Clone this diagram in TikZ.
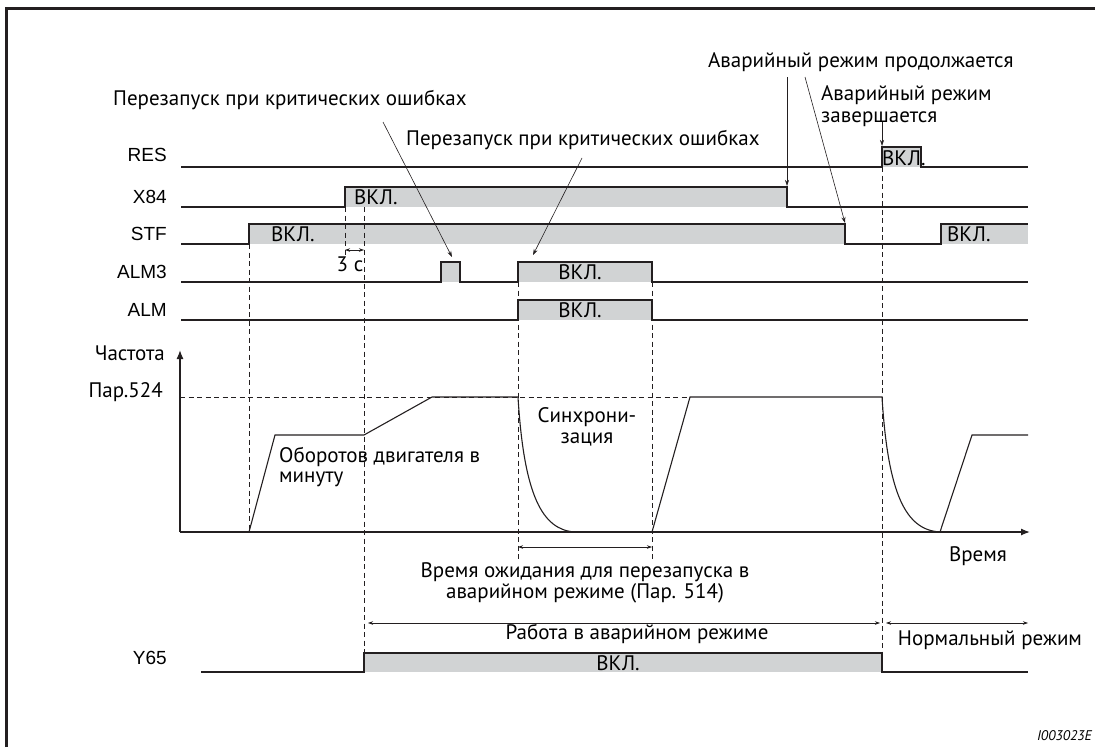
\documentclass[tikz,border=0pt]{standalone}
\usepackage{fontspec}
\setmainfont{PT Sans}
\newfontfamily\sigfamily{Liberation Sans}
\usetikzlibrary{arrows.meta}
\definecolor{wLine}{HTML}{231F20}
\definecolor{wFill}{HTML}{D1D3D4}
\tikzset{
  wave/.style={draw=wLine, line width=1.3pt, line join=miter},
  curve/.style={draw=wLine, line width=1.1pt},
  guide/.style={draw=wLine, line width=0.8pt, dash pattern=on 5pt off 3.5pt},
  axis/.style={draw=wLine, line width=1.3pt, -{Latex[length=9pt, width=7pt]}},
  ptr/.style={draw=wLine, line width=0.6pt, -{Stealth[length=6pt, width=4pt]}},
  span/.style={draw=wLine, line width=0.6pt,
               {Stealth[length=5pt, width=3.5pt]}-{Stealth[length=5pt, width=3.5pt]}},
  sig/.style={font=\sigfamily\fontsize{19}{19}\selectfont, anchor=east, inner sep=0pt},
  txt/.style={font=\fontsize{21}{20.5}\selectfont, inner sep=0pt, align=center},
  onlbl/.style={font=\fontsize{21}{21}\selectfont, inner sep=0pt},
}
\newcommand{\vkl}{ВКЛ.}

\begin{document}
\begin{tikzpicture}[x=1pt, y=-1pt]
\useasboundingbox (0,0) rectangle (1095,747);

%% ── frame ────────────────────────────────────────────────────────────────
\draw[wLine, line width=2.5pt] (6.5,747) -- (6.5,8.5) -- (1095,8.5);

%% ── signal names ─────────────────────────────────────────────────────────
\node[sig] (nRES)  at (167,155) {RES};
\node[sig] (nX84)  at (167,197) {X84};
\node[sig] (nSTF)  at (167,234) {STF};
\node[sig] (nALM3) at (167,272) {ALM3};
\node[sig] (nALM)  at (167,310) {ALM};
\node[sig] (nY65)  at (167,658) {Y65};

%% ── grey "on" bands ──────────────────────────────────────────────────────
\fill[wFill] (882,147) rectangle (921,167);
\fill[wFill] (345,187) rectangle (787,207);
\fill[wFill] (249,224) rectangle (845,244);
\fill[wFill] (941,224) rectangle (1028,244);
\fill[wFill] (441,262) rectangle (460,282);
\fill[wFill] (518,262) rectangle (652,282);
\fill[wFill] (518,300) rectangle (652,320);
\fill[wFill] (364,653) rectangle (882,672);

%% ── dashed guides ────────────────────────────────────────────────────────
\draw[guide] (249,244) -- (249,532);
\draw[guide] (345,207) -- (345,255);
\draw[guide] (364,207) -- (364,653);
\draw[guide] (518,282) -- (518,560);
\draw[guide] (652,282) -- (652,560);
\draw[guide] (882,167) -- (882,653);
\draw[guide] (180,397) -- (690,397);

%% ── waveforms ────────────────────────────────────────────────────────────
\draw[wave] (181,167) -- (882,167) -- (882,147) -- (921,147) -- (921,167) -- (1028,167);
\draw[wave] (181,207) -- (345,207) -- (345,187) -- (787,187) -- (787,207) -- (1028,207);
\draw[wave] (181,244) -- (249,244) -- (249,224) -- (845,224) -- (845,244)
            -- (941,244) -- (941,224) -- (1028,224);
\draw[wave] (181,282) -- (441,282) -- (441,262) -- (460,262) -- (460,282)
            -- (518,282) -- (518,262) -- (652,262) -- (652,282) -- (1028,282);
\draw[wave] (181,320) -- (518,320) -- (518,300) -- (652,300) -- (652,320) -- (1028,320);
\draw[wave] (201,672) -- (364,672) -- (364,653) -- (882,653) -- (882,672) -- (1028,672);

\node[onlbl, anchor=west] (vX84)  at (354,197) {\vkl};
\node[onlbl, anchor=west] (vSTFa) at (271,234) {\vkl};
\node[onlbl, anchor=west] (vSTFb) at (947,234) {\vkl};
\node[onlbl]              (vALM3) at (580,272) {\vkl};
\node[onlbl]              (vALM)  at (580,310) {\vkl};
\node[onlbl, anchor=west] (vRES)  at (882,158) {\vkl};
\node[onlbl]              (vY65)  at (618,663) {\vkl};

%% ── frequency ────────────────────────────────────────────────────────────
\draw[axis] (180,532) -- (180,350);
\draw[axis] (180,532) -- (1030,532);
\draw[curve] (249,532) -- (275,435) -- (364,435) -- (432,397) -- (518,397)
             .. controls (524,495) and (542,530) .. (575,532);
\draw[curve] (652,532) -- (690,397) -- (882,397)
             .. controls (888,495) and (906,530) .. (940,532)
             -- (972,435) -- (1028,435);

\node[txt, anchor=east] (fAxis) at (165,353) {Частота};
\node[txt, anchor=east] (fMax)  at (163,392) {Пар.524};
\node[txt] (tAxis) at (978,556) {Время};
\node[txt, align=left, anchor=west] (fRpm) at (279,467)
  {Оборотов двигателя в\\минуту};
\node[txt] (fSync) at (587,427) {Синхрони-\\зация};

%% ── time spans ───────────────────────────────────────────────────────────
\coordinate (s3a) at (345,250);  \coordinate (s3b) at (364,250);
\coordinate (swa) at (518,547);  \coordinate (swb) at (652,547);
\coordinate (sea) at (368,623);  \coordinate (seb) at (880,623);
\coordinate (sna) at (886,623);  \coordinate (snb) at (1028,623);
\draw[span] (s3a) -- (s3b);
\draw[span] (swa) -- (swb);
\draw[span] (sea) -- (seb);
\draw[span] (sna) -- (snb);
\node[txt] (l3s)  at (350,264) {3 с};
\node[txt] (lWait) at (585,583) {Время ожидания для перезапуска в\\аварийном режиме (Пар. 514)};
\node[txt] (lEmg)  at (637,634) {Работа в аварийном режиме};
\node[txt] (lNorm) at (990,640) {Нормальный режим};

%% ── call-outs ────────────────────────────────────────────────────────────
\node[txt, anchor=west] (cRst1) at (113,100) {Перезапуск при критических ошибках};
\node[txt, anchor=west] (cRst2) at (406,140) {Перезапуск при критических ошибках};
\node[txt, anchor=west] (cCont) at (708,62)  {Аварийный режим продолжается};
\node[txt, align=left, anchor=west] (cEnd) at (821,106) {Аварийный режим\\[2pt]завершается};
\coordinate (k1a) at (383,122);  \coordinate (k1b) at (452,257);
\coordinate (k2a) at (582,158);  \coordinate (k2b) at (533,255);
\coordinate (k3a) at (787,77);   \coordinate (k3b) at (787,186);
\coordinate (k4a) at (805,77);   \coordinate (k4b) at (845,223);
\coordinate (k5a) at (882,122);  \coordinate (k5b) at (882,146);
\draw[ptr] (k1a) -- (k1b);
\draw[ptr] (k2a) -- (k2b);
\draw[ptr] (k3a) -- (k3b);
\draw[ptr] (k4a) -- (k4b);
\draw[ptr] (k5a) -- (k5b);

\node[font=\itshape\fontsize{14}{14}\selectfont, anchor=east, inner sep=0pt] (figId)
  at (1092,736) {I003023E};

\end{tikzpicture}
\end{document}
